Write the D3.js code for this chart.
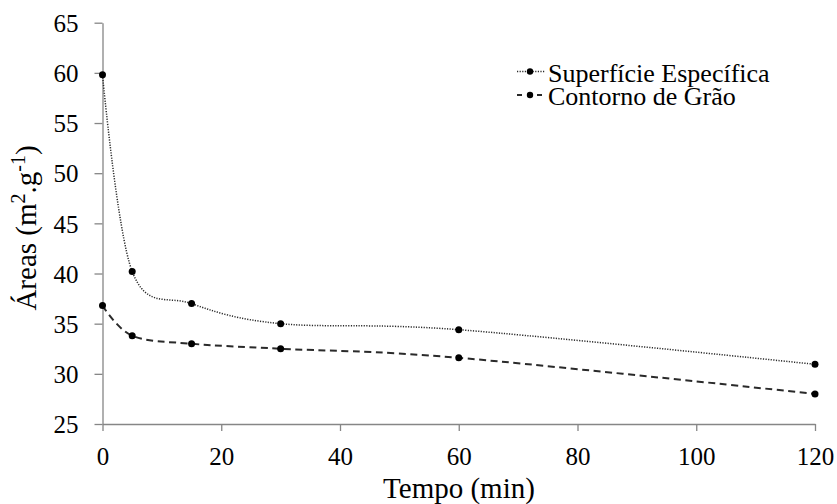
<!DOCTYPE html>
<html>
<head>
<meta charset="utf-8">
<script src="https://cdn.jsdelivr.net/npm/d3@7"></script>
<style>
  html, body { margin: 0; padding: 0; background: #fff; }
  svg { display: block; }
  svg text { font-family: "Liberation Serif", "Times New Roman", serif; }
</style>
</head>
<body>
<svg id="chart" width="837" height="504"></svg>
<script>
// Sintering time (min) and areas (m².g⁻¹)
const tempo = [0, 5, 15, 30, 60, 120];
const superficieEspecifica = [59.8, 40.2, 37.0, 35.0, 34.4, 30.95];
const contornoDeGrao = [36.8, 33.8, 33.0, 32.5, 31.6, 28.0];
const xTicks = [0, 20, 40, 60, 80, 100, 120];
const yTicks = [25, 30, 35, 40, 45, 50, 55, 60, 65];
const seriesNames = ["Superfície Específica", "Contorno de Grão"];

const svg = d3.select("#chart");
const plotLeft = 102.5, plotRight = 815, plotTop = 22.7, plotBottom = 424;

const x = d3.scaleLinear().domain([0, 120]).range([plotLeft, plotRight]);
const y = d3.scaleLinear().domain([25, 65]).range([plotBottom, plotTop]);

const axisColor = "#868686";

// X axis
const gx = svg.append("g").attr("transform", `translate(0,${plotBottom})`)
  .call(d3.axisBottom(x).tickValues(xTicks).tickSize(7).tickSizeOuter(0).tickPadding(16));
// Y axis
const gy = svg.append("g").attr("transform", `translate(${plotLeft},0)`)
  .call(d3.axisLeft(y).tickValues(yTicks).tickSize(8).tickSizeOuter(0).tickPadding(16));

[gx, gy].forEach(g => {
  g.attr("font-family", null).attr("font-size", null);
  g.select(".domain").attr("stroke", axisColor).attr("stroke-width", 1.3);
  g.selectAll(".tick line").attr("stroke", axisColor).attr("stroke-width", 1.3);
  g.selectAll(".tick text").attr("fill", "#000").style("font-size", "25px");
});
gx.selectAll(".tick text").attr("dy", "0.71em");
gy.selectAll(".tick text").attr("dy", "0.35em");

// Axis titles
svg.append("text")
  .attr("x", 459).attr("y", 498)
  .attr("text-anchor", "middle").style("font-size", "29px")
  .text("Tempo (min)");

const yTitle = svg.append("text")
  .attr("transform", "translate(36,228) rotate(-90)")
  .attr("text-anchor", "middle").style("font-size", "29px");
yTitle.append("tspan").text("Áreas (m");
yTitle.append("tspan").style("font-size", "20px").attr("dy", -11).text("2");
yTitle.append("tspan").attr("dy", 11).text(".g");
yTitle.append("tspan").style("font-size", "20px").attr("dy", -11).text("-1");
yTitle.append("tspan").attr("dy", 11).text(")");

// Series: dotted specific surface, dashed grain boundary
const styles = [
  { values: superficieEspecifica, dash: "1.2,1.4", width: 1.5, color: "#2a2a2a" },
  { values: contornoDeGrao, dash: "7,4.5", width: 2, color: "#2a2a2a" }
];

const line = d3.line()
  .x(d => x(d[0])).y(d => y(d[1]))
  .curve(d3.curveCardinal.tension(0));

styles.forEach(s => {
  const pts = tempo.map((t, i) => [t, s.values[i]]);
  svg.append("path")
    .datum(pts)
    .attr("d", line)
    .attr("fill", "none")
    .attr("stroke", s.color)
    .attr("stroke-width", s.width)
    .attr("stroke-dasharray", s.dash);
  svg.append("g").selectAll("circle").data(pts).join("circle")
    .attr("cx", d => x(d[0])).attr("cy", d => y(d[1]))
    .attr("r", 3.5).attr("fill", "#000");
});

// Legend
const legend = svg.append("g");
seriesNames.forEach((name, i) => {
  const baseline = 81.5 + i * 23.5;
  const ly = baseline - 10;
  const s = styles[i];
  legend.append("line")
    .attr("x1", 517).attr("x2", 545).attr("y1", ly).attr("y2", ly)
    .attr("stroke", s.color).attr("stroke-width", s.width)
    .attr("stroke-dasharray", i === 0 ? s.dash : "5,5");
  legend.append("circle").attr("cx", 530).attr("cy", ly).attr("r", 3.2).attr("fill", "#000");
  legend.append("text")
    .attr("x", 548).attr("y", baseline)
    .style("font-size", "26px").text(name);
});
</script>
</body>
</html>
